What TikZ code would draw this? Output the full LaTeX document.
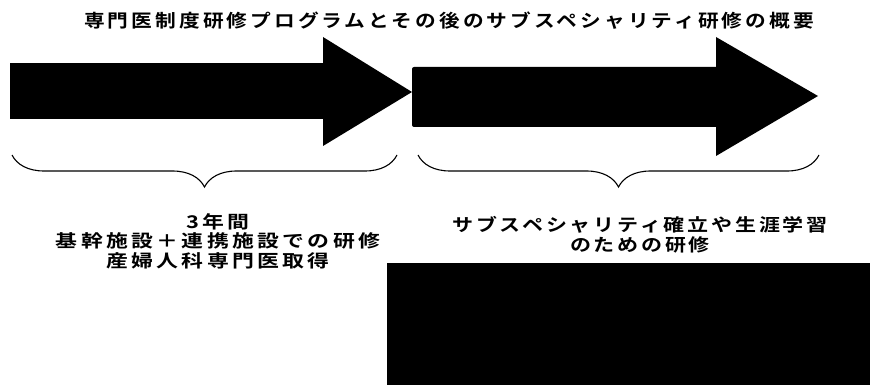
\documentclass[tikz,border=0pt]{standalone}
\usepackage{fontspec}
\usepackage{xcolor}
\usepackage{tikz}
\usetikzlibrary{calc,decorations.pathreplacing}
\newfontfamily\jptitle[FakeStretch=1.15,LetterSpace=17,BoldFont={Noto Sans CJK JP Bold}]{Noto Sans CJK JP}
\newfontfamily\jpleft[FakeStretch=1.25,LetterSpace=19,BoldFont={Noto Sans CJK JP Bold}]{Noto Sans CJK JP}
\newfontfamily\jpright[FakeStretch=1.2,LetterSpace=16,BoldFont={Noto Sans CJK JP Bold}]{Noto Sans CJK JP}
\definecolor{ink}{HTML}{000000}
\tikzset{
  bigarrow/.style={fill=ink, draw=none},
  bracel/.style={draw=ink, line width=1.1pt, decorate,
    decoration={brace, mirror, amplitude=32pt}},
  ttl/.style={text=ink, font=\jptitle\bfseries\fontsize{18}{20}\selectfont},
  lbll/.style={text=ink, align=center, font=\jpleft\bfseries\fontsize{17.5}{19.5}\selectfont},
  lblr/.style={text=ink, align=center, font=\jpright\bfseries\fontsize{17.5}{20}\selectfont}
}

\begin{document}
\begin{tikzpicture}[x=1pt, y=-1pt]
  \useasboundingbox (0,0) rectangle (870,385);

  % first arrow: three years
  \coordinate (A1) at (10,63);
  \coordinate (A2) at (323,119);
  \coordinate (A3) at (323,37);
  \coordinate (A4) at (412,92);
  \coordinate (A5) at (323,146);
  % second arrow: afterwards
  \coordinate (B1) at (412,67);
  \coordinate (B2) at (716,127);
  \coordinate (B3) at (716,37);
  \coordinate (B4) at (818,96);
  \coordinate (B5) at (716,156);

  \fill[bigarrow] (A1) rectangle (A2);
  \fill[bigarrow] (A3)--(A4)--(A5)--cycle;
  \fill[bigarrow, rounded corners=2pt] (B1) rectangle ($(B2)+(2,0)$);
  \fill[bigarrow] (B3)--(B4)--(B5)--cycle;

  \draw[bracel] (12,155) -- (397,155);
  \draw[bracel] (418,155) -- (819,155);

  \node[ttl] (title) at (449,21) {専門医制度研修プログラムとその後のサブスペシャリティ研修の概要};
  \node[lbll] (left) at (218,241) {3年間\\基幹施設＋連携施設での研修\\産婦人科専門医取得};
  \node[lblr] (right) at (640,235) {サブスペシャリティ確立や生涯学習\\のための研修};

  \fill[ink] (387,263) rectangle (870,385);
\end{tikzpicture}
\end{document}
